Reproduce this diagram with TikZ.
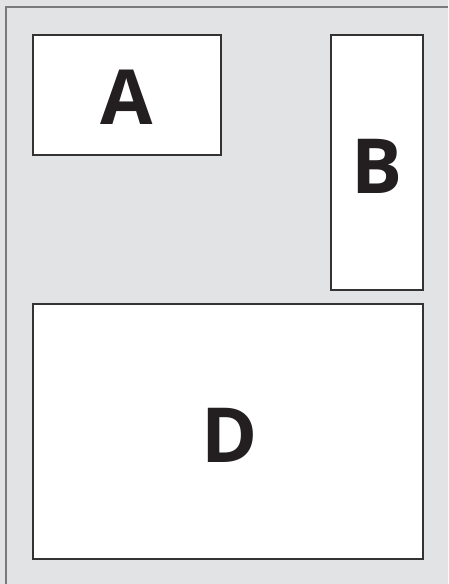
\documentclass[tikz,border=0pt]{standalone}
\usepackage{fontspec}
\setmainfont{Open Sans}

\definecolor{plochabg}{HTML}{E2E3E4}
\definecolor{okrajbg}{HTML}{7A7A7A}
\definecolor{okrajbox}{HTML}{333333}
\definecolor{pismeno}{HTML}{231F20}

\tikzset{
  blok/.style={draw=okrajbox, fill=white, line width=1.1pt},
  znak/.style={text=pismeno, font=\fontsize{76}{76}\selectfont\bfseries, inner sep=0pt}
}

\begin{document}
\begin{tikzpicture}[x=1pt, y=-1pt]
        \useasboundingbox (0,0) rectangle (448,584);

        % pozadi
        \fill[plochabg] (0,0) rectangle (448,584);
        \draw[okrajbg, line width=1.6pt] (5.8,584) -- (5.8,6.8) -- (448,6.8);

        % bloky
        \draw[blok] (33,35) rectangle (221,155);
        \draw[blok] (331,35) rectangle (423,290);
        \draw[blok] (33,304) rectangle (423,559);

        \node[znak] (a) at (127,97.5) {A};
        \node[znak] (b) at (377.5,166) {B};
        \node[znak] (d) at (229.5,435) {D};

    \end{tikzpicture}
\end{document}
